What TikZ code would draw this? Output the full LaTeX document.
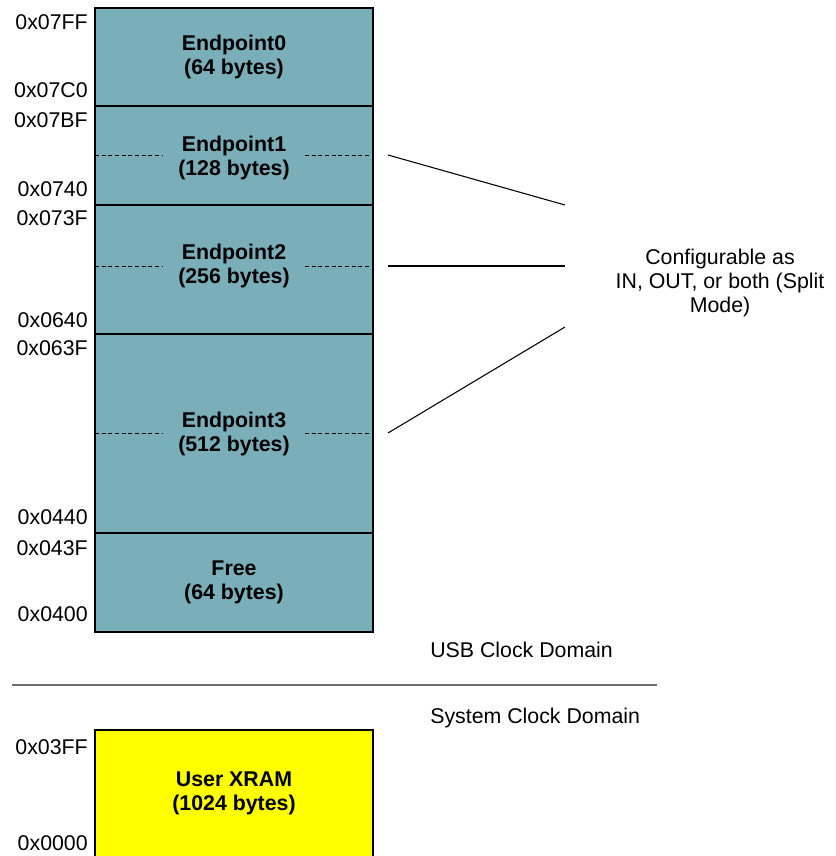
\documentclass[tikz,border=0pt]{standalone}
\usepackage{fontspec}
\setmainfont{Liberation Sans}
\usetikzlibrary{fit}
\definecolor{usbteal}{HTML}{7AAEB8}
\definecolor{xramyellow}{HTML}{FFFF00}
\definecolor{sepgray}{HTML}{6E6E6E}
\tikzset{
  seg/.style={draw=black,fill=usbteal,line width=0.8pt,inner sep=0pt},
  xram/.style={seg,fill=xramyellow},
  segtext/.style={align=center,inner sep=0pt,font=\fontsize{16}{18}\selectfont\bfseries},
  addr/.style={anchor=east,inner sep=0pt,font=\fontsize{16}{18}\selectfont},
  clkdomain/.style={anchor=west,inner sep=0pt,font=\fontsize{16}{18}\selectfont},
  cut/.style={dashed,dash pattern=on 3pt off 2pt,line width=0.75pt},
  conn/.style={draw=black,line width=0.8pt},
  note/.style={align=center,inner sep=0pt,font=\fontsize{16}{18}\selectfont},
}
\begin{document}
\begin{tikzpicture}[x=0.75pt,y=-0.75pt]
  \useasboundingbox (0,0) rectangle (835,856);
  \clip (0,0) rectangle (835,856);
  % USB FIFO space
  \node[seg,fit={(95,8) (373,106)}] (ep0) {};
  \node[seg,fit={(95,106) (373,205)}] (ep1) {};
  \node[seg,fit={(95,205) (373,334)}] (ep2) {};
  \node[seg,fit={(95,334) (373,533)}] (ep3) {};
  \node[seg,fit={(95,533) (373,632)}] (free) {};
  \node[segtext] (ep0t) at (ep0) {Endpoint0\\(64 bytes)};
  \node[segtext] (ep1t) at ([yshift=-1.5]ep1.center) {Endpoint1\\(128 bytes)};
  \node[segtext] (ep2t) at ([yshift=2.5]ep2.center) {Endpoint2\\(256 bytes)};
  \node[segtext] (ep3t) at (ep3) {Endpoint3\\(512 bytes)};
  \node[segtext] (freet) at (free) {Free\\(64 bytes)};
  % split mode halves
  \foreach \y in {155,266,433} {
     \draw[cut] (95,\y) -- (163,\y); \draw[cut] (305,\y) -- (373,\y);
  }
  % addresses
  \foreach \y/\a in {22/0x07FF, 90/0x07C0, 120/0x07BF, 189/0x0740, 218/0x073F, 320/0x0640,
                     348/0x063F, 517/0x0440, 548/0x043F, 614/0x0400, 747/0x03FF, 843/0x0000} {
     \node[addr] (a\a) at (88,\y) {\a};
  }
  % configurable note
  \node[note] (cfg) at (720,283) {Configurable as\\IN, OUT, or both (Split\\Mode)};
  \foreach \i/\ya/\yb in {1/155/205, 2/266/266, 3/433/327} {
     \coordinate (s\i) at (388,\ya); \coordinate (t\i) at (565,\yb);
     \draw[conn] (s\i) -- (t\i);
  }
  % clock domains
  \node[clkdomain] (usb) at (430,650) {USB Clock Domain};
  \coordinate (sepL) at (12,685); \coordinate (sepR) at (657,685);
  \draw[sepgray,line width=1.5pt] (sepL) -- (sepR);
  \node[clkdomain] (sys) at (430,718) {System Clock Domain};
  \node[xram,fit={(95,730) (373,862)}] (xram) {};
  \node[segtext] (xramt) at (234,793) {User XRAM\\(1024 bytes)};
\end{tikzpicture}
\end{document}
